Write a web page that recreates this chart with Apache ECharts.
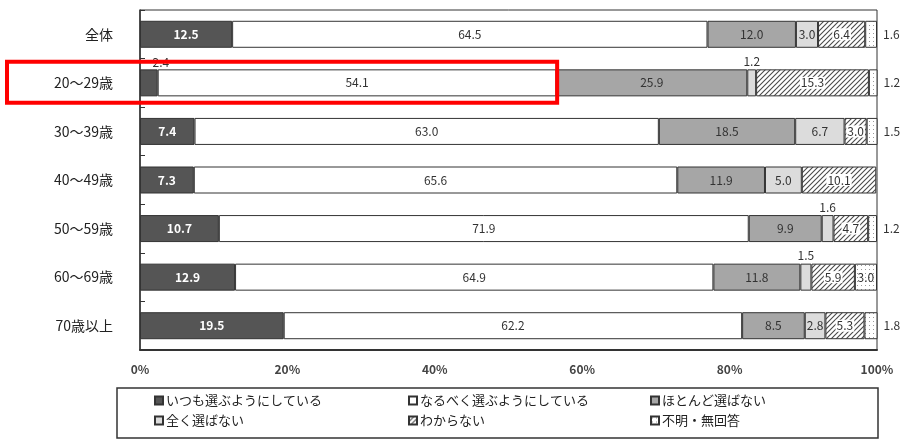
<!DOCTYPE html>
<html>
<head>
<meta charset="utf-8">
<script src="https://cdn.jsdelivr.net/npm/echarts@6/dist/echarts.min.js"></script>
<style>
  html, body { margin: 0; padding: 0; background: #fff; }
  #chart { width: 905px; height: 439px; }
</style>
</head>
<body>
<div id="chart"></div>
<script>
// Age groups, top to bottom
const categories = ['全体', '20～29歳', '30～39歳', '40～49歳', '50～59歳', '60～69歳', '70歳以上'];

// Shares (%) per answer
const alwaysChoose = [12.5, 2.4, 7.4, 7.3, 10.7, 12.9, 19.5];
const ratherChoose = [64.5, 54.1, 63.0, 65.6, 71.9, 64.9, 62.2];
const seldomChoose = [12.0, 25.9, 18.5, 11.9, 9.9, 11.8, 8.5];
const neverChoose  = [3.0, 1.2, 6.7, 5.0, 1.6, 1.5, 2.8];
const dontKnow     = [6.4, 15.3, 3.0, 10.1, 4.7, 5.9, 5.3];
const noAnswer     = [1.6, 1.2, 1.5, null, 1.2, 3.0, 1.8];

const seriesNames = ['いつも選ぶようにしている', 'なるべく選ぶようにしている', 'ほとんど選ばない',
                     '全く選ばない', 'わからない', '不明・無回答'];

const xTicks = [0, 20, 40, 60, 80, 100];

const FONT = '"Noto Sans CJK JP", "Noto Sans", sans-serif';

// Fill patterns
function makeHatch() {
  const c = document.createElement('canvas');
  c.width = 5; c.height = 5;
  const g = c.getContext('2d');
  g.fillStyle = '#fff'; g.fillRect(0, 0, 5, 5);
  g.strokeStyle = '#4a4a4a'; g.lineWidth = 1.1;
  g.beginPath();
  g.moveTo(0, 5); g.lineTo(5, 0);
  g.moveTo(-1, 1); g.lineTo(1, -1);
  g.moveTo(4, 6); g.lineTo(6, 4);
  g.stroke();
  return c;
}
function makeDots() {
  const c = document.createElement('canvas');
  c.width = 4; c.height = 4;
  const g = c.getContext('2d');
  g.fillStyle = '#fff'; g.fillRect(0, 0, 4, 4);
  g.fillStyle = '#999'; g.fillRect(1, 1, 1, 1);
  return c;
}

const fills = [
  '#555555',
  '#ffffff',
  '#a6a6a6',
  '#dcdcdc',
  { image: makeHatch(), repeat: 'repeat' },
  { image: makeDots(), repeat: 'repeat' }
];
const seriesData = [alwaysChoose, ratherChoose, seldomChoose, neverChoose, dontKnow, noAnswer];

const baseLabel = {
  show: true,
  fontFamily: FONT,
  fontSize: 12,
  color: '#333',
  formatter: p => (p.value == null ? '' : Number(p.value).toFixed(1))
};

// Per-bar label placement: narrow segments carry their label outside
function labelFor(si, v) {
  if (v == null) return { show: false };
  if (si === 0) {
    if (v < 5) return { position: 'top', distance: 1, offset: [12, 0], color: '#333', fontWeight: 'normal' };
    return { position: 'inside', color: '#fff', fontWeight: 'bold' };
  }
  if (si === 3 && v < 2.5) return { position: 'top', distance: 2 };
  if (si === 4) return { position: 'inside', backgroundColor: '#fff', padding: [0, 1] };
  if (si === 5) {
    if (v < 2.5) return { position: 'right', distance: 6 };
    return { position: 'inside' };
  }
  return { position: 'inside' };
}

const series = seriesNames.map((name, si) => ({
  name,
  type: 'bar',
  stack: 'total',
  barWidth: 27,
  itemStyle: { color: fills[si], borderColor: '#333', borderWidth: 1 },
  label: Object.assign({}, baseLabel, { position: 'inside', color: si === 0 ? '#fff' : '#333' }),
  data: seriesData[si].map(v => ({ value: v, label: labelFor(si, v) }))
}));

// Legend laid out in a 3 x 2 grid
const legendCols = [154, 408, 650];
const legendRows = [394, 414];
const legends = seriesNames.map((name, i) => ({
  data: [name],
  left: legendCols[i % 3],
  top: legendRows[Math.floor(i / 3)],
  icon: 'rect',
  itemWidth: 8,
  itemHeight: 8,
  itemGap: 4,
  padding: 0,
  selectedMode: false,
  textStyle: { fontFamily: FONT, fontSize: 13, color: '#222', padding: [0, 0, 0, -2] }
}));

const chart = echarts.init(document.getElementById('chart'), null, { renderer: 'canvas' });

const option = {
  animation: false,
  backgroundColor: '#fff',
  textStyle: { fontFamily: FONT },
  grid: {
    left: 140, right: 28, top: 10, bottom: 89,
    show: true, borderColor: '#333', borderWidth: 1, backgroundColor: 'transparent'
  },
  xAxis: {
    type: 'value',
    min: xTicks[0],
    max: xTicks[xTicks.length - 1],
    interval: 20,
    axisLine: { show: true, lineStyle: { color: '#333', width: 2 } },
    axisTick: { show: false },
    splitLine: { show: false },
    axisLabel: {
      formatter: '{value}%', fontFamily: FONT, fontSize: 12, fontWeight: 'bold', color: '#444', margin: 13
    }
  },
  yAxis: {
    type: 'category',
    data: categories,
    inverse: true,
    axisLine: { show: true, lineStyle: { color: '#333', width: 1.5 } },
    axisTick: { show: true, inside: true, length: 5, lineStyle: { color: '#333' } },
    axisLabel: { fontFamily: FONT, fontSize: 14, color: '#222', margin: 27 }
  },
  legend: legends,
  series
};

chart.setOption(option);

// Legend frame and highlight box around the 20s row
const rowY = chart.convertToPixel({ yAxisIndex: 0 }, categories[1]);
const boxRight = chart.convertToPixel({ xAxisIndex: 0 }, 56.6);
chart.setOption({
  graphic: [
    {
      type: 'rect',
      shape: { x: 117, y: 388, width: 761, height: 50 },
      style: { fill: 'none', stroke: '#333', lineWidth: 1.5 },
      silent: true
    },
    {
      type: 'rect',
      shape: { x: 7, y: rowY - 21, width: boxRight - 7, height: 41 },
      style: { fill: 'none', stroke: '#ff0000', lineWidth: 4 },
      silent: true,
      z: 100
    }
  ]
});
</script>
</body>
</html>
